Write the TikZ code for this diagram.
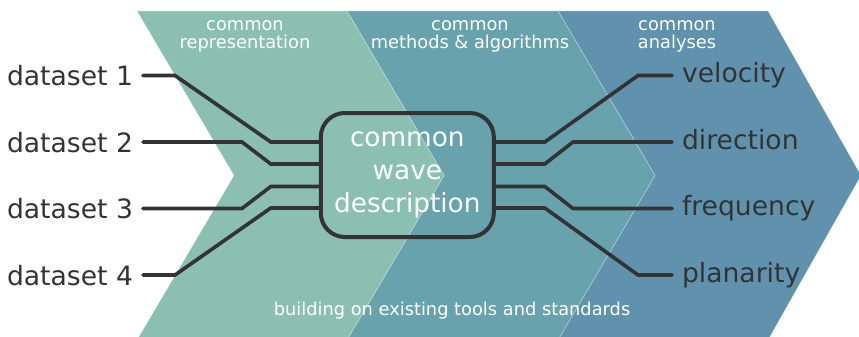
\documentclass[tikz,border=0pt]{standalone}
\usepackage{fontspec}
\setmainfont{DejaVu Sans}
\usetikzlibrary{calc}
\definecolor{cgreen}{HTML}{8BBFB0}
\definecolor{cteal}{HTML}{67A2AD}
\definecolor{cblue}{HTML}{6092AD}
\definecolor{ink}{HTML}{333333}
\begin{document}
\begin{tikzpicture}[x=1pt,y=-1pt,
  chev/.style={draw=white, draw opacity=0.35, line width=0.6pt},
  wire/.style={draw=ink, line width=3.6pt, line cap=round, line join=miter},
  leftlabel/.style={anchor=east, font=\fontsize{26.6}{33}\selectfont, text=ink,
    text height=20pt, text depth=0pt, inner xsep=10pt, inner ysep=0pt, outer sep=0pt},
  rightlabel/.style={anchor=west, font=\fontsize{26.6}{33}\selectfont, text=ink,
    text height=20pt, text depth=6pt, inner xsep=10pt, inner ysep=0pt, outer sep=0pt},
  toplabel/.style={font=\fontsize{17.8}{18.3}\selectfont, text=white, align=center,
    inner sep=0pt},
  corebox/.style={draw=ink, line width=4pt, rounded corners=24pt,
    minimum width=173pt, minimum height=124pt, align=center, text=white,
    font=\fontsize{26.3}{33}\selectfont, inner sep=0pt, outer sep=0pt}
]
\useasboundingbox (0,0) rectangle (859,337);
\clip (0,0) rectangle (859,337);
% chevrons
\path[chev, fill=cblue] (558,11) -- (768,11) -- (861,175.5) -- (768,340) -- (558,340) -- (655,175.5) -- cycle;
\path[chev, fill=cteal] (347,11) -- (558,11) -- (655,175.5) -- (558,340) -- (347,340) -- (444,175.5) -- cycle;
\path[chev, fill=cgreen] (137,11) -- (347,11) -- (444,175.5) -- (347,340) -- (137,340) -- (234,175.5) -- cycle;
% headings
\node[toplabel] (t1) at (245,36.4) {common\\representation};
\node[toplabel] (t2) at (470,36.4) {common\\methods \& algorithms};
\node[toplabel] (t3) at (677,36.4) {common\\analyses};
\node[toplabel, anchor=base] (bt) at (452,315) {building on existing tools and standards};
% core
\node[corebox] (cwd) at (407.3,175) {common\\wave\\description};
% left labels
\node[leftlabel] (d1) at (143,75.5) {dataset 1};
\node[leftlabel] (d2) at (143,142) {dataset 2};
\node[leftlabel] (d3) at (143,208.5) {dataset 3};
\node[leftlabel] (d4) at (143,275) {dataset 4};
% right labels
\node[rightlabel] (r1) at (672,75.5) {velocity};
\node[rightlabel] (r2) at (672,142) {direction};
\node[rightlabel] (r3) at (672,208.5) {frequency};
\node[rightlabel] (r4) at (672,275) {planarity};
% wires left
\draw[wire] (d1.east) -- ++(32,0) -- ($(cwd.west)+(-50,-33)$) -- ($(cwd.west)+(0,-33)$);
\draw[wire] (d2.east) -- ++(99,0) -- ($(cwd.west)+(-50,-11)$) -- ($(cwd.west)+(0,-11)$);
\draw[wire] (d3.east) -- ++(99,0) -- ($(cwd.west)+(-50,11.5)$) -- ($(cwd.west)+(0,11.5)$);
\draw[wire] (d4.east) -- ++(32,0) -- ($(cwd.west)+(-50,33)$) -- ($(cwd.west)+(0,33)$);
% wires right
\draw[wire] ($(cwd.east)+(0,-33)$) -- ++(51,0) -- ($(r1.west)+(-34,0)$) -- (r1.west);
\draw[wire] ($(cwd.east)+(0,-11)$) -- ++(51,0) -- ($(r2.west)+(-99,0)$) -- (r2.west);
\draw[wire] ($(cwd.east)+(0,11.5)$) -- ++(51,0) -- ($(r3.west)+(-99,0)$) -- (r3.west);
\draw[wire] ($(cwd.east)+(0,33)$) -- ++(51,0) -- ($(r4.west)+(-34,0)$) -- (r4.west);
\end{tikzpicture}
\end{document}
